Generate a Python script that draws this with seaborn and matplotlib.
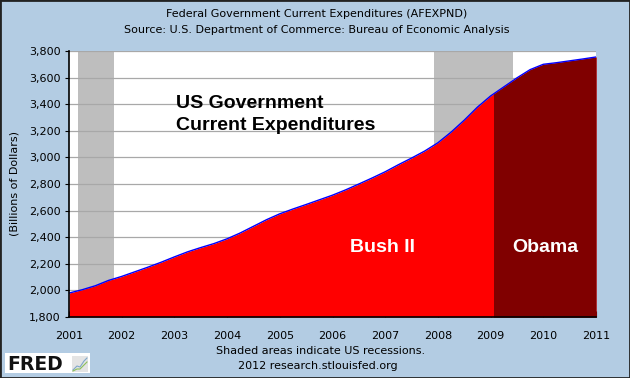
import numpy as np
import pandas as pd
import matplotlib
matplotlib.use("Agg")
import matplotlib.pyplot as plt
import seaborn as sns
from matplotlib.patches import Rectangle
from matplotlib.lines import Line2D

# ---- data (quarterly, billions of dollars) ----
dates = [2001.00, 2001.25, 2001.50, 2001.75, 2002.00, 2002.25, 2002.50, 2002.75,
         2003.00, 2003.25, 2003.50, 2003.75, 2004.00, 2004.25, 2004.50, 2004.75,
         2005.00, 2005.25, 2005.50, 2005.75, 2006.00, 2006.25, 2006.50, 2006.75,
         2007.00, 2007.25, 2007.50, 2007.75, 2008.00, 2008.25, 2008.50, 2008.75,
         2009.00, 2009.25, 2009.50, 2009.75, 2010.00, 2010.25, 2010.50, 2010.75,
         2011.00]
expenditures = [1980, 2005, 2035, 2075, 2105, 2140, 2175, 2212,
                2252, 2290, 2322, 2352, 2388, 2432, 2482, 2532,
                2576, 2612, 2646, 2681, 2716, 2756, 2800, 2845,
                2892, 2945, 2995, 3048, 3110, 3190, 3280, 3378,
                3462, 3530, 3598, 3660, 3700, 3712, 3726, 3740,
                3755]
recessions = [(2001.17, 2001.85), (2007.92, 2009.42)]
obama_start = 2009.06
x_ticks = list(range(2001, 2012))
y_ticks = list(range(1800, 3801, 200))

df = pd.DataFrame({"date": dates, "value": expenditures})

BG = "#B3CCE3"
fig = plt.figure(figsize=(6.3, 3.78), dpi=100, facecolor=BG)
ax = fig.add_axes([69/630, 1-317/378, (596-69)/630, (317-51)/378])
ax.set_facecolor("white")

for a, b in recessions:
    ax.axvspan(a, b, color="#BEBEBE", lw=0, zorder=1)

for yt in y_ticks:
    ax.axhline(yt, color="#A8A8A8", lw=0.9, zorder=1.5)

bush = ax.fill_between(df["date"], df["value"], 1800, color="#FF0000", lw=0, zorder=2)
obama = ax.fill_between(df["date"], df["value"], 1800, color="#800000", lw=0, zorder=2.1)
clip = Rectangle((obama_start, 1700), 5, 2500, transform=ax.transData)
obama.set_clip_path(clip)

sns.lineplot(data=df, x="date", y="value", ax=ax, color="#0000FF", lw=1.0, zorder=3)

ax.set_xlim(2001, 2011)
ax.set_ylim(1800, 3800)
ax.set_xticks(x_ticks)
ax.set_xticklabels([str(t) for t in x_ticks])
ax.set_yticks(y_ticks)
ax.set_yticklabels([f"{t:,}" for t in y_ticks])
ax.tick_params(axis="x", direction="in", length=4, color="black", labelsize=8, pad=10)
ax.tick_params(axis="y", direction="out", length=3, color="black", labelsize=8, pad=3)
for s in ["top", "right"]:
    ax.spines[s].set_visible(False)
for s in ["left", "bottom"]:
    ax.spines[s].set_color("black")
    ax.spines[s].set_linewidth(1.2)
    ax.spines[s].set_zorder(4)
ax.set_xlabel("")
ax.set_ylabel("(Billions of Dollars)", fontsize=8)
ax.yaxis.set_label_coords(-(69-20)/527, 0.5)

ax.text(2003.03, 3371, "US Government", fontsize=14, fontweight="bold",
        family="Liberation Sans", color="black", ha="left", va="baseline", zorder=5)
ax.text(2003.03, 3206, "Current Expenditures", fontsize=14, fontweight="bold",
        family="Liberation Sans", color="black", ha="left", va="baseline", zorder=5)
ax.text(2006.94, 2289, "Bush II", fontsize=14, fontweight="bold", family="Liberation Sans",
        color="white", ha="center", va="baseline", zorder=5)
ax.text(2010.03, 2289, "Obama", fontsize=14, fontweight="bold", family="Liberation Sans",
        color="white", ha="center", va="baseline", zorder=5)

fig.text(317/630, 1-14/378, "Federal Government Current Expenditures (AFEXPND)", ha="center", va="center", fontsize=8)
fig.text(317/630, 1-30/378, "Source: U.S. Department of Commerce: Bureau of Economic Analysis", ha="center", va="center", fontsize=8)
fig.text(321/630, 1-351/378, "Shaded areas indicate US recessions.", ha="center", va="center", fontsize=8)
fig.text(318/630, 1-366/378, "2012 research.stlouisfed.org", ha="center", va="center", fontsize=8)

# FRED logo
fig.patches.append(Rectangle((5/630, 1-373/378), 85/630, 20/378, transform=fig.transFigure,
                             facecolor="white", edgecolor="none", zorder=5))
fig.text(7/630, 1-364/378, "FRED", ha="left", va="center", fontsize=13.5, fontweight="bold",
         family="DejaVu Sans", color="#111111", zorder=6)
fig.patches.append(Rectangle((72/630, 1-372/378), 16/630, 16/378, transform=fig.transFigure,
                             facecolor="#E4E4E4", edgecolor="none", zorder=6))
fig.lines.append(Line2D(np.array([73, 77, 80, 84, 87]) / 630, 1 - np.array([370, 366, 367, 361, 358]) / 378,
                        transform=fig.transFigure, color="#7FA7C9", lw=0.8, zorder=7))
fig.lines.append(Line2D(np.array([73, 77, 80, 84, 87]) / 630, 1 - np.array([371, 369, 369, 365, 362]) / 378,
                        transform=fig.transFigure, color="#8CBF5A", lw=0.8, zorder=7))
fig.patches.append(Rectangle((0, 0), 1, 1, transform=fig.transFigure, fill=False,
                             edgecolor="#222222", lw=2, zorder=10))

fig.savefig("out.png", dpi=100, facecolor=BG)
